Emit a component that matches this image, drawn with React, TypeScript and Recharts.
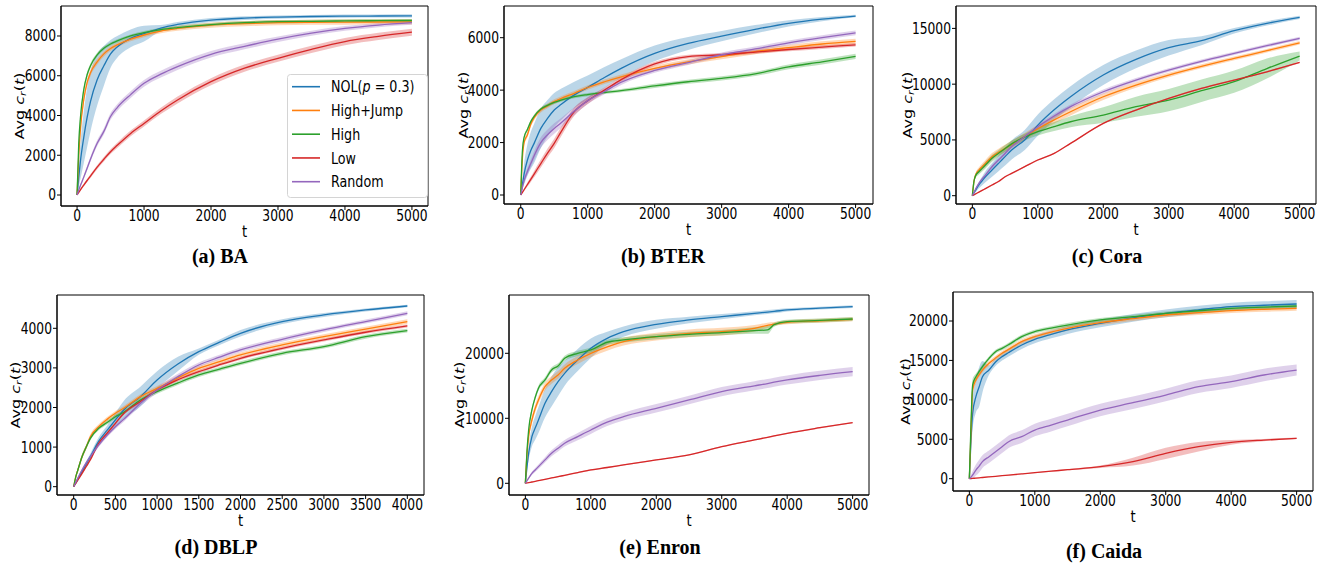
import React from 'react';
import { ComposedChart, Line, Area, XAxis, YAxis, ReferenceArea, Legend } from 'recharts';

// ---------- shared ----------
const SERIES_NAMES = ['NOL(p = 0.3)', 'High+Jump', 'High', 'Low', 'Random'];
const COLORS = ['#1f77b4', '#ff7f0e', '#2ca02c', '#d62728', '#9467bd'];
const T_5000 = [0, 25, 50, 100, 150, 200, 300, 400, 500, 600, 800, 1000, 1250, 1500, 2000, 2500, 3000, 3500, 4000, 4500, 5000];
const T_DBLP = [0, 25, 50, 100, 150, 200, 300, 400, 500, 600, 800, 1000, 1250, 1500, 1750, 2000, 2500, 3000, 3500, 4000];
const T_ENRON = [0, 25, 50, 100, 150, 200, 300, 400, 500, 600, 800, 1000, 1250, 1500, 2000, 2500, 3000, 3500, 3700, 3800, 4000, 4500, 5000];
const X_TICKS_5000 = [0, 1000, 2000, 3000, 4000, 5000];
const X_TICKS_4000 = [0, 500, 1000, 1500, 2000, 2500, 3000, 3500, 4000];

// ---------- (a) BA ----------
const BA_NOL = [0, 900, 1700, 2900, 3900, 4700, 5800, 6500, 7100, 7450, 7880, 8120, 8400, 8580, 8800, 8900, 8950, 8980, 9000, 9005, 9010];
const BA_HJ = [0, 2000, 3300, 4800, 5650, 6150, 6700, 7100, 7370, 7550, 7840, 8050, 8250, 8380, 8550, 8620, 8670, 8690, 8700, 8705, 8710];
const BA_HIGH = [0, 2600, 3900, 5300, 6050, 6500, 7050, 7380, 7600, 7750, 8000, 8170, 8320, 8420, 8570, 8670, 8720, 8740, 8760, 8770, 8780];
const BA_LOW = [0, 130, 260, 500, 730, 950, 1400, 1800, 2180, 2500, 3100, 3600, 4230, 4780, 5700, 6380, 6880, 7330, 7720, 7980, 8190];
const BA_RAND = [0, 250, 480, 900, 1350, 1800, 2600, 3200, 3950, 4400, 5050, 5620, 6080, 6460, 7080, 7480, 7840, 8140, 8380, 8550, 8670];
const BA_NOL_BAND = [0, 500, 900, 1300, 1500, 1500, 1300, 1000, 700, 550, 450, 400, 150, 120, 100, 90, 80, 80, 80, 80, 80];
const BA_HJ_BAND = [0, 150, 200, 200, 180, 170, 150, 130, 120, 110, 110, 110, 110, 120, 130, 130, 130, 130, 130, 130, 130];
const BA_HIGH_BAND = [0, 150, 150, 150, 130, 120, 110, 100, 90, 90, 80, 80, 80, 80, 80, 80, 80, 80, 80, 80, 80];
const BA_LOW_BAND = [0, 30, 50, 70, 80, 90, 100, 110, 120, 130, 140, 150, 160, 170, 180, 180, 180, 180, 180, 180, 180];
const BA_RAND_BAND = [0, 50, 80, 100, 120, 130, 150, 160, 170, 170, 170, 170, 170, 170, 160, 150, 140, 130, 120, 110, 110];
const BA_Y_TICKS = [0, 2000, 4000, 6000, 8000];

// ---------- (b) BTER ----------
const BT_NOL = [0, 400, 800, 1335, 1700, 1970, 2540, 2920, 3240, 3450, 3820, 4106, 4480, 4830, 5400, 5780, 6060, 6320, 6550, 6710, 6826];
const BT_HJ = [0, 1400, 2000, 2300, 2700, 2950, 3240, 3400, 3560, 3680, 3880, 4100, 4320, 4510, 4830, 5080, 5280, 5470, 5620, 5760, 5860];
const BT_HIGH = [0, 1700, 2200, 2500, 2800, 3000, 3280, 3420, 3530, 3620, 3750, 3830, 3910, 3980, 4160, 4320, 4450, 4620, 4890, 5080, 5290];
const BT_LOW = [0, 100, 200, 400, 600, 800, 1200, 1600, 1970, 2400, 3180, 3600, 4000, 4400, 5000, 5280, 5350, 5450, 5550, 5640, 5730];
const BT_RAND = [0, 300, 550, 900, 1200, 1500, 2000, 2300, 2540, 2750, 3200, 3600, 3950, 4300, 4750, 5050, 5350, 5570, 5800, 6000, 6180];
const BT_NOL_BAND = [0, 200, 400, 600, 700, 750, 750, 700, 650, 600, 500, 450, 400, 350, 300, 250, 200, 160, 120, 80, 50];
const BT_HJ_BAND = [0, 80, 100, 100, 100, 100, 90, 90, 90, 90, 90, 90, 90, 90, 100, 100, 100, 100, 100, 100, 100];
const BT_HIGH_BAND = [0, 60, 70, 70, 70, 70, 60, 60, 60, 60, 60, 60, 60, 60, 80, 80, 80, 80, 90, 100, 100];
const BT_LOW_BAND = [0, 30, 50, 80, 100, 120, 150, 170, 180, 180, 160, 130, 100, 90, 80, 70, 70, 70, 70, 70, 70];
const BT_RAND_BAND = [0, 80, 100, 130, 150, 170, 200, 200, 200, 180, 150, 130, 110, 100, 90, 90, 90, 90, 90, 90, 90];
const BT_Y_TICKS = [0, 2000, 4000, 6000];

// ---------- (c) Cora ----------
const CO_NOL = [0, 250, 500, 960, 1330, 1700, 2300, 2900, 3500, 4100, 5000, 6330, 7700, 8870, 10820, 12220, 13270, 13900, 14790, 15450, 15985];
const CO_HJ = [0, 1300, 1850, 2300, 2600, 2900, 3500, 3900, 4240, 4600, 5300, 6000, 6800, 7530, 8870, 9920, 10820, 11600, 12310, 13000, 13710];
const CO_HIGH = [0, 1300, 1800, 2150, 2450, 2750, 3350, 3800, 4240, 4650, 5250, 5740, 6200, 6630, 7230, 7980, 8570, 9410, 10220, 11400, 12520];
const CO_LOW = [0, 80, 160, 320, 480, 640, 960, 1280, 1700, 2000, 2600, 3200, 3800, 4690, 6480, 7680, 8720, 9620, 10370, 11110, 11950];
const CO_RAND = [0, 300, 600, 1100, 1500, 1850, 2600, 3200, 3790, 4400, 5290, 6180, 7150, 7980, 9320, 10370, 11260, 12050, 12760, 13450, 14100];
const CO_NOL_BAND = [0, 100, 200, 300, 400, 500, 600, 700, 800, 850, 900, 950, 950, 950, 900, 800, 700, 400, 250, 200, 150];
const CO_HJ_BAND = [0, 150, 200, 250, 280, 300, 320, 320, 320, 320, 320, 330, 350, 350, 300, 250, 200, 180, 170, 160, 150];
const CO_HIGH_BAND = [0, 150, 200, 250, 280, 300, 300, 300, 300, 300, 300, 350, 400, 500, 700, 900, 1000, 1000, 1000, 900, 400];
const CO_LOW_BAND = [0, 20, 30, 40, 50, 60, 60, 60, 60, 60, 60, 60, 60, 60, 70, 70, 70, 70, 70, 70, 70];
const CO_RAND_BAND = [0, 50, 80, 100, 120, 130, 150, 170, 190, 200, 200, 200, 200, 200, 200, 180, 170, 160, 150, 150, 150];
const CO_Y_TICKS = [0, 5000, 10000, 15000];

// ---------- (d) DBLP ----------
const DB_NOL = [0, 95, 190, 380, 570, 760, 1150, 1420, 1684, 1937, 2274, 2695, 3100, 3410, 3650, 3874, 4168, 4337, 4463, 4564];
const DB_HJ = [0, 250, 421, 758, 1000, 1263, 1516, 1700, 1853, 1980, 2274, 2484, 2750, 2989, 3160, 3326, 3579, 3789, 3980, 4168];
const DB_HIGH = [0, 250, 421, 758, 1000, 1221, 1474, 1620, 1768, 1880, 2189, 2400, 2620, 2821, 2970, 3116, 3368, 3537, 3789, 3941];
const DB_LOW = [0, 85, 170, 337, 510, 680, 1095, 1350, 1600, 1850, 2150, 2442, 2700, 2905, 3080, 3242, 3495, 3705, 3900, 4059];
const DB_RAND = [0, 110, 220, 421, 600, 760, 1053, 1300, 1516, 1700, 2105, 2442, 2780, 3074, 3270, 3453, 3722, 3958, 4170, 4379];
const DB_NOL_BAND = [0, 30, 50, 60, 70, 80, 100, 120, 180, 230, 250, 220, 180, 80, 70, 80, 60, 50, 40, 30];
const DB_HJ_BAND = [0, 40, 50, 60, 60, 60, 60, 60, 60, 60, 60, 60, 60, 60, 60, 60, 60, 60, 60, 60];
const DB_HIGH_BAND = [0, 40, 50, 60, 50, 50, 50, 50, 50, 50, 50, 50, 50, 50, 50, 50, 50, 50, 50, 50];
const DB_LOW_BAND = [0, 20, 30, 40, 40, 40, 40, 40, 40, 40, 40, 40, 40, 40, 40, 40, 40, 40, 40, 40];
const DB_RAND_BAND = [0, 20, 30, 40, 40, 40, 50, 50, 60, 60, 70, 70, 70, 60, 60, 60, 60, 50, 50, 50];
const DB_Y_TICKS = [0, 1000, 2000, 3000, 4000];

// ---------- (e) Enron ----------
const EN_NOL = [0, 2500, 4620, 7180, 8500, 9740, 12310, 14100, 15640, 16920, 18970, 20770, 22300, 23330, 24460, 25130, 25640, 26150, 26350, 26450, 26670, 26950, 27180];
const EN_HJ = [0, 4500, 7180, 9740, 11500, 12820, 14870, 15900, 16670, 17690, 18970, 20000, 21000, 21790, 22560, 23080, 23330, 23850, 24300, 24500, 24770, 25000, 25230];
const EN_HIGH = [0, 5000, 8200, 11280, 13200, 14620, 15900, 17440, 18050, 19230, 20000, 20510, 21700, 22050, 22560, 22920, 23180, 23490, 23600, 24400, 24870, 25050, 25280];
const EN_LOW = [0, 50, 100, 200, 300, 410, 620, 820, 1030, 1230, 1640, 2050, 2430, 2820, 3590, 4360, 5640, 6670, 7080, 7280, 7690, 8550, 9330];
const EN_RAND = [0, 400, 800, 1540, 2050, 2560, 3600, 4620, 5400, 6150, 7180, 8200, 9400, 10260, 11540, 12820, 14100, 15000, 15350, 15550, 15900, 16600, 17180];
const EN_NOL_BAND = [0, 500, 1000, 1500, 1800, 2000, 2200, 2300, 2200, 1900, 1700, 1500, 1000, 800, 700, 500, 400, 300, 300, 300, 250, 200, 200];
const EN_HJ_BAND = [0, 300, 500, 600, 600, 600, 600, 600, 600, 600, 600, 600, 600, 600, 600, 600, 600, 500, 400, 300, 300, 300, 300];
const EN_HIGH_BAND = [0, 300, 400, 400, 400, 400, 400, 400, 400, 400, 400, 400, 400, 400, 400, 400, 400, 500, 600, 300, 300, 300, 300];
const EN_LOW_BAND = [0, 20, 30, 50, 60, 70, 80, 90, 100, 100, 100, 100, 100, 100, 100, 100, 100, 100, 100, 100, 100, 100, 100];
const EN_RAND_BAND = [0, 100, 150, 250, 300, 350, 400, 450, 500, 500, 550, 600, 600, 600, 650, 650, 700, 700, 700, 700, 700, 700, 700];
const EN_Y_TICKS = [0, 10000, 20000];

// ---------- (f) Caida ----------
const CA_NOL = [0, 5000, 8290, 10400, 11670, 12940, 13780, 14800, 15480, 16000, 16960, 17670, 18300, 18860, 19700, 20400, 20970, 21420, 21820, 22000, 22160];
const CA_HJ = [0, 6000, 11250, 12520, 13200, 13780, 14630, 15300, 15900, 16400, 17380, 18010, 18600, 19070, 19790, 20300, 20760, 21050, 21310, 21480, 21610];
const CA_HIGH = [0, 7000, 11880, 12940, 13600, 14210, 15260, 16110, 16530, 17000, 18010, 18650, 19100, 19490, 20130, 20550, 20970, 21300, 21610, 21770, 21900];
const CA_LOW = [0, 19, 38, 76, 114, 152, 228, 304, 380, 456, 608, 760, 950, 1140, 1520, 2160, 3210, 4060, 4610, 4900, 5120];
const CA_RAND = [0, 200, 470, 1100, 1600, 2160, 2790, 3420, 4060, 4690, 5330, 6170, 6800, 7440, 8710, 9640, 10610, 11670, 12300, 13150, 13780];
const CA_NOL_BAND = [0, 1500, 2000, 2000, 2500, 2000, 600, 500, 500, 500, 500, 500, 500, 500, 500, 500, 500, 500, 500, 500, 500];
const CA_HJ_BAND = [0, 1000, 800, 400, 300, 300, 300, 300, 300, 300, 300, 300, 300, 300, 300, 300, 300, 300, 300, 300, 300];
const CA_HIGH_BAND = [0, 1000, 800, 400, 300, 300, 250, 250, 250, 250, 250, 250, 250, 250, 250, 250, 250, 250, 250, 250, 250];
const CA_LOW_BAND = [0, 20, 30, 40, 40, 40, 40, 40, 40, 40, 50, 60, 70, 80, 150, 500, 700, 600, 300, 150, 100];
const CA_RAND_BAND = [0, 300, 500, 700, 800, 800, 800, 800, 800, 800, 800, 800, 800, 800, 800, 800, 800, 800, 800, 800, 700];
const CA_Y_TICKS = [0, 5000, 10000, 15000, 20000];

// ---------- panel layout ----------
const PANELS = [
  { id: 'a', caption: '(a) BA', t: T_5000, means: [BA_NOL, BA_HJ, BA_HIGH, BA_LOW, BA_RAND], bands: [BA_NOL_BAND, BA_HJ_BAND, BA_HIGH_BAND, BA_LOW_BAND, BA_RAND_BAND],
    xDomain: [-240, 5240], yDomain: [-553, 9509], xTicks: X_TICKS_5000, yTicks: BA_Y_TICKS, rect: { l: 61, t: 6, r: 428, b: 206 }, ylab: 42, cap: [220, 262], legend: true },
  { id: 'b', caption: '(b) BTER', t: T_5000, means: [BT_NOL, BT_HJ, BT_HIGH, BT_LOW, BT_RAND], bands: [BT_NOL_BAND, BT_HJ_BAND, BT_HIGH_BAND, BT_LOW_BAND, BT_RAND_BAND],
    xDomain: [-250, 5260], yDomain: [-343, 7209], xTicks: X_TICKS_5000, yTicks: BT_Y_TICKS, rect: { l: 504, t: 6, r: 873, b: 204 }, ylab: 41, cap: [663, 262], legend: false },
  { id: 'c', caption: '(c) Cora', t: T_5000, means: [CO_NOL, CO_HJ, CO_HIGH, CO_LOW, CO_RAND], bands: [CO_NOL_BAND, CO_HJ_BAND, CO_HIGH_BAND, CO_LOW_BAND, CO_RAND_BAND],
    xDomain: [-250, 5250], yDomain: [-744, 17008], xTicks: X_TICKS_5000, yTicks: CO_Y_TICKS, rect: { l: 956, t: 6, r: 1316, b: 204 }, ylab: 49, cap: [1107, 262], legend: false },
  { id: 'd', caption: '(d) DBLP', t: T_DBLP, means: [DB_NOL, DB_HJ, DB_HIGH, DB_LOW, DB_RAND], bands: [DB_NOL_BAND, DB_HJ_BAND, DB_HIGH_BAND, DB_LOW_BAND, DB_RAND_BAND],
    xDomain: [-200, 4200], yDomain: [-210, 4841], xTicks: X_TICKS_4000, yTicks: DB_Y_TICKS, rect: { l: 57, t: 295, r: 424, b: 495 }, ylab: 42, cap: [216, 553], legend: false },
  { id: 'e', caption: '(e) Enron', t: T_ENRON, means: [EN_NOL, EN_HJ, EN_HIGH, EN_LOW, EN_RAND], bands: [EN_NOL_BAND, EN_HJ_BAND, EN_HIGH_BAND, EN_LOW_BAND, EN_RAND_BAND],
    xDomain: [-250, 5250], yDomain: [-1800, 28969], xTicks: X_TICKS_5000, yTicks: EN_Y_TICKS, rect: { l: 509, t: 295, r: 869, b: 495 }, ylab: 50, cap: [660, 553], legend: false },
  { id: 'f', caption: '(f) Caida', t: T_5000, means: [CA_NOL, CA_HJ, CA_HIGH, CA_LOW, CA_RAND], bands: [CA_NOL_BAND, CA_HJ_BAND, CA_HIGH_BAND, CA_LOW_BAND, CA_RAND_BAND],
    xDomain: [-250, 5250], yDomain: [-1560, 23678], xTicks: X_TICKS_5000, yTicks: CA_Y_TICKS, rect: { l: 953, t: 292, r: 1313, b: 491 }, ylab: 48, cap: [1104, 557], legend: false },
];

const FONT = 'DejaVu Sans';
const SQUISH = 0.82;

const XTick = (props: any) => {
  const { x, y, payload } = props;
  return (
    <text transform={`translate(${x},${y}) scale(${SQUISH},1)`} textAnchor="middle" dy="0.76em" fontSize={15} fontFamily={FONT} fill="#000">
      {payload.value}
    </text>
  );
};

const YTick = (props: any) => {
  const { x, y, payload } = props;
  return (
    <text transform={`translate(${x},${y}) scale(${SQUISH},1)`} textAnchor="end" dy="0.36em" fontSize={15} fontFamily={FONT} fill="#000">
      {payload.value}
    </text>
  );
};

const XTitle = (props: any) => (
  <text transform={`translate(${props.lx},${props.ly}) scale(${SQUISH},1)`} textAnchor="middle" fontSize={16} fontFamily={FONT} fill="#000">t</text>
);

const YTitle = (props: any) => (
  <text transform={`translate(${props.lx},${props.ly}) rotate(-90) scale(1,${SQUISH})`} textAnchor="middle" dy="0.36em" fontSize={16} fontFamily={FONT} fill="#000">
    Avg <tspan fontStyle="italic">c</tspan>
    <tspan fontStyle="italic" fontSize={11} dy={3}>r</tspan>
    <tspan dy={-3}>(</tspan>
    <tspan fontStyle="italic">t</tspan>)
  </text>
);

const LegendName = ({ name }: { name: string }) => {
  if (name.startsWith('NOL(p')) {
    return (<>NOL(<tspan fontStyle="italic">p</tspan>{name.slice(5)}</>);
  }
  return <>{name}</>;
};

const LegendBox = () => (
  <svg width={142} height={125} style={{ display: 'block' }}>
    <rect x={0.5} y={0.5} width={140} height={123} rx={3} fill="#fff" fillOpacity={0.8} stroke="#d4d4d4" />
    {SERIES_NAMES.map((n, i) => {
      const yy = 12.7 + i * 23.75;
      return (
        <g key={n}>
          <line x1={5} x2={33} y1={yy} y2={yy} stroke={COLORS[i]} strokeWidth={1.6} />
          <text transform={`translate(44,${yy}) scale(${SQUISH},1)`} dy="0.36em" fontSize={15.5} fontFamily={FONT} fill="#000">
            <LegendName name={n} />
          </text>
        </g>
      );
    })}
  </svg>
);

const PAD_L = 58, PAD_T = 5, PAD_R = 6, PAD_B = 40;

function Panel({ p }: { p: any }) {
  const w = p.rect.r - p.rect.l;
  const h = p.rect.b - p.rect.t;
  const data = p.t.map((t: number, i: number) => {
    const row: any = { t };
    p.means.forEach((m: number[], k: number) => {
      row['m' + k] = m[i];
      row['r' + k] = [m[i] - p.bands[k][i], m[i] + p.bands[k][i]];
    });
    return row;
  });
  const series = [0, 1, 2, 3, 4];
  const children: any[] = [];
  series.forEach((k) => {
    children.push(
      <Area key={'a' + k} dataKey={'r' + k} type="monotone" stroke="none" fill={COLORS[k]} fillOpacity={0.3} isAnimationActive={false} activeDot={false} />
    );
    children.push(
      <Line key={'l' + k} dataKey={'m' + k} name={SERIES_NAMES[k]} type="monotone" stroke={COLORS[k]} strokeWidth={1.3} dot={false} activeDot={false} isAnimationActive={false} />
    );
  });
  return (
    <div style={{ position: 'absolute', left: p.rect.l - PAD_L, top: p.rect.t - PAD_T }}>
      <ComposedChart width={w + PAD_L + PAD_R} height={h + PAD_T + PAD_B} data={data} margin={{ top: PAD_T, right: PAD_R, bottom: 0, left: 0 }}>
        <XAxis dataKey="t" type="number" domain={p.xDomain} ticks={p.xTicks} allowDataOverflow interval={0} height={PAD_B}
          tickSize={4} tickMargin={0} stroke="#000" tick={<XTick />} label={<XTitle lx={PAD_L + w / 2} ly={PAD_T + h + 31} />} />
        <YAxis type="number" domain={p.yDomain} ticks={p.yTicks} allowDataOverflow interval={0} width={PAD_L}
          tickSize={4} tickMargin={1} stroke="#000" tick={<YTick />} label={<YTitle lx={PAD_L - p.ylab} ly={PAD_T + h / 2} />} />
        {children}
        <ReferenceArea x1={p.xDomain[0]} x2={p.xDomain[1]} y1={p.yDomain[0]} y2={p.yDomain[1]} fill="none" fillOpacity={0} stroke="#000" strokeWidth={1} ifOverflow="visible" />
        {p.legend ? (
          <Legend layout="vertical" align="center" verticalAlign="middle" content={() => <LegendBox />}
            wrapperStyle={{ left: 287 - (p.rect.l - PAD_L), top: 74 - (p.rect.t - PAD_T), width: 142, height: 125 }} />
        ) : null}
      </ComposedChart>
    </div>
  );
}

export default function App() {
  return (
    <div style={{ position: 'relative', width: 1322, height: 566, background: '#fff', overflow: 'hidden' }}>
      <style>{'body{margin:0;background:#fff;}'}</style>
      {PANELS.map((p) => <Panel key={p.id} p={p} />)}
      {PANELS.map((p) => (
        <div key={'cap' + p.id} style={{ position: 'absolute', left: p.cap[0] - 100, width: 200, top: p.cap[1] - 17, textAlign: 'center',
          fontFamily: '"Liberation Serif", serif', fontWeight: 'bold', fontSize: 20, lineHeight: '22px', color: '#000', whiteSpace: 'nowrap' }}>
          {p.caption}
        </div>
      ))}
    </div>
  );
}
